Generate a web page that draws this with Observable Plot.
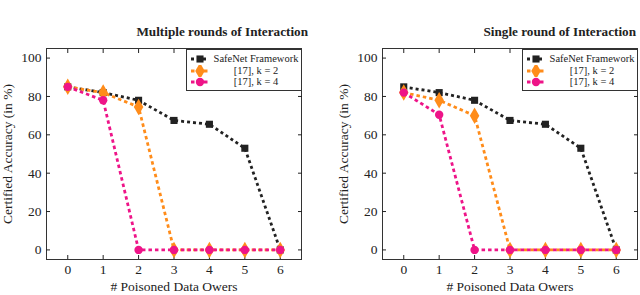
<!DOCTYPE html>
<html><head><meta charset="utf-8">
<script src="https://cdn.jsdelivr.net/npm/d3@7"></script>
<script src="https://cdn.jsdelivr.net/npm/@observablehq/plot@0.6"></script>
<style>
body{margin:0;background:#fff;}
#wrap{position:relative;width:640px;height:295px;display:flex;font-family:'Liberation Serif',serif;color:#222;}
.panel{position:relative;}
.title{position:absolute;top:25px;font-family:'Liberation Serif',serif;font-weight:bold;font-size:13.2px;white-space:nowrap;line-height:1;}
.legend{position:absolute;top:49px;width:116px;height:42px;border:1px solid #333;background:#fff;box-sizing:border-box;}
.row{position:absolute;left:0;width:114px;height:12px;}
.row svg{position:absolute;left:2px;top:0;}
.row span{position:absolute;left:24px;width:90px;text-align:center;font-family:'Liberation Serif',serif;font-size:10.5px;line-height:12px;white-space:nowrap;}
</style></head><body><div id="wrap"></div>
<script>
const owners = [0, 1, 2, 3, 4, 5, 6];
const seriesNames = ["SafeNet Framework", "[17], k = 2", "[17], k = 4"];
const multiSafeNet = [85, 82, 78, 67.5, 65.5, 53, 0];
const multiK2 = [85, 82, 74.5, 0, 0, 0, 0];
const multiK4 = [85, 78, 0, 0, 0, 0, 0];
const singleSafeNet = [85, 82, 78, 67.5, 65.5, 53, 0];
const singleK2 = [82, 78, 70, 0, 0, 0, 0];
const singleK4 = [82, 70.5, 0, 0, 0, 0, 0];
const panelTitles = ["Multiple rounds of Interaction", "Single round of Interaction"];
const yTicks = [0, 20, 40, 60, 80, 100];
const xLabel = "# Poisoned Data Owers";
const yLabel = "Certified Accuracy (in %)";

const colors = ["#222222", "#ff8c1a", "#ee1488"];
const symbols = ["square", "diamond", "circle"];
const radii = [4, 5, 4.2];
const dashes = ["3,3", "3.5,3", "3.5,3"];
const serif = "Liberation Serif";

const wrap = document.getElementById("wrap");

function makePanel(title, series, width, marginRight, titleRight) {
  const div = document.createElement("div");
  div.className = "panel";
  div.style.width = width + "px";
  div.style.height = "295px";
  const data = series.map((vals) => owners.map((x, j) => ({x, y: vals[j]})));
  const marks = [
    Plot.frame({stroke: "#333", strokeWidth: 1}),
    Plot.axisX({ticks: owners, tickSize: -4, tickPadding: 9, fontSize: 13.5, label: xLabel, labelAnchor: "center", labelArrow: "none", labelOffset: 31}),
    Plot.axisX({anchor: "top", ticks: owners, tickSize: -4, tickFormat: () => "", label: null}),
    Plot.axisY({ticks: yTicks, tickSize: -4, tickPadding: 9, fontSize: 13.5, label: yLabel, labelAnchor: "center", labelArrow: "none", labelOffset: 44}),
    Plot.axisY({anchor: "right", ticks: yTicks, tickSize: -4, tickFormat: () => "", label: null})
  ];
  data.forEach((d, i) => {
    marks.push(Plot.line(d, {x: "x", y: "y", stroke: colors[i], strokeWidth: 2.8, strokeDasharray: dashes[i], strokeLinecap: "butt"}));
    marks.push(Plot.dot(d, {x: "x", y: "y", symbol: symbols[i], r: radii[i], fill: colors[i], stroke: "none"}));
  });
  const plot = Plot.plot({
    width, height: 295,
    marginLeft: 46, marginRight, marginTop: 48, marginBottom: 36,
    style: {fontFamily: serif, fontSize: "13.5px", color: "#222", background: "white", overflow: "visible"},
    x: {domain: [-0.6, 6.6]},
    y: {domain: [-5, 105]},
    marks
  });
  div.appendChild(plot);
  const t = document.createElement("div");
  t.className = "title";
  t.style.right = titleRight + "px";
  t.textContent = title;
  div.appendChild(t);
  // legend
  const lg = document.createElement("div");
  lg.className = "legend";
  lg.style.right = (marginRight - 1) + "px";
  seriesNames.forEach((name, i) => {
    const row = document.createElement("div");
    row.className = "row";
    row.style.top = (3 + i * 11.7) + "px";
    const svg = d3.create("svg").attr("width", 22).attr("height", 12);
    svg.append("line").attr("x1", 2).attr("x2", 20).attr("y1", 6).attr("y2", 6)
      .attr("stroke", colors[i]).attr("stroke-width", 2.8).attr("stroke-dasharray", dashes[i]);
    const sym = {square: d3.symbolSquare, diamond: d3.symbolDiamond, circle: d3.symbolCircle}[symbols[i]];
    svg.append("path").attr("transform", "translate(11,6)")
      .attr("d", d3.symbol(sym, radii[i] * radii[i] * Math.PI)())
      .attr("fill", colors[i]);
    row.appendChild(svg.node());
    const sp = document.createElement("span");
    sp.textContent = name;
    row.appendChild(sp);
    lg.appendChild(row);
  });
  div.appendChild(lg);
  wrap.appendChild(div);
}

makePanel(panelTitles[0], [multiSafeNet, multiK2, multiK4], 336, 35, 28);
makePanel(panelTitles[1], [singleSafeNet, singleK2, singleK4], 304, 3, 4);
</script>
</body></html>
